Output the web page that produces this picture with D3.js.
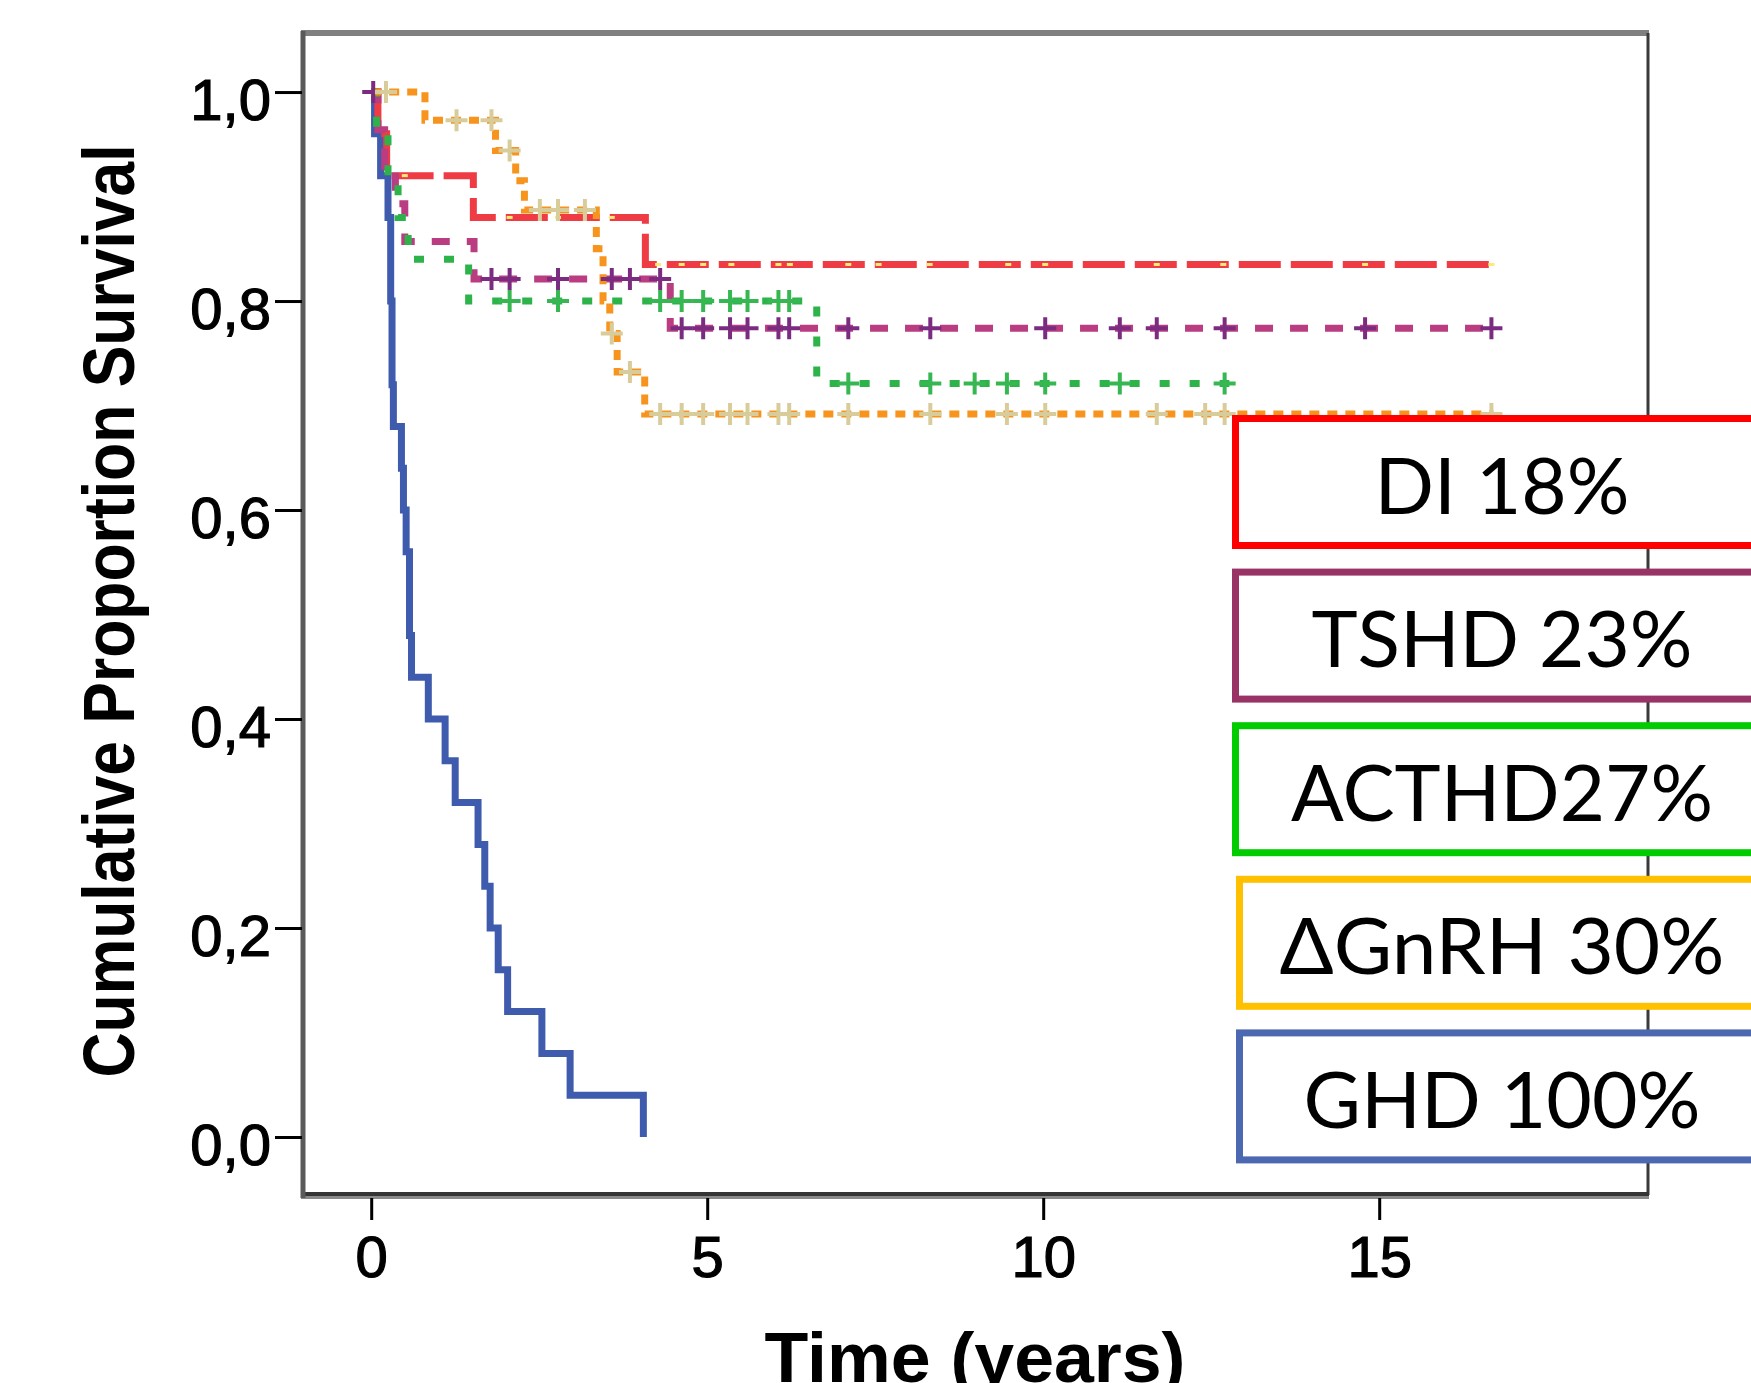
<!DOCTYPE html>
<html>
<head>
<meta charset="utf-8">
<script src="https://d3js.org/d3.v7.min.js"></script>
<style>
    body { margin: 0; background: #fff; }
    svg { display: block; }
</style>
</head>
<body>
<svg id="chart" width="1751" height="1383"></svg>
<script>
// Kaplan-Meier steps: time (years) where the curve drops, and survival after it
var ghdTimes = [0, 0.05, 0.14, 0.25, 0.29, 0.31, 0.33, 0.45, 0.48, 0.52, 0.57, 0.60, 0.85, 1.10, 1.25, 1.59, 1.69, 1.77, 1.89, 2.03, 2.54, 2.96, 4.05];
var ghdSurv  = [1.00, 0.96, 0.92, 0.88, 0.80, 0.72, 0.68, 0.64, 0.60, 0.56, 0.48, 0.44, 0.40, 0.36, 0.32, 0.28, 0.24, 0.20, 0.16, 0.12, 0.08, 0.04, 0.00];
var ghdEnd = 4.05;
var ghdCensored = [];

var diTimes = [0, 0.10, 0.23, 1.52, 4.08];
var diSurv  = [1.00, 0.96, 0.92, 0.88, 0.835];
var diEnd = 16.7;
var diCensored = [0.5, 2.06, 2.78, 3.58, 4.27, 4.62, 4.94, 5.36, 6.06, 6.23, 7.10, 7.55, 8.31, 9.48, 10.03, 11.69, 12.68, 14.79, 16.67];

var tshdTimes = [0, 0.10, 0.20, 0.36, 0.50, 1.53, 4.45];
var tshdSurv  = [1.00, 0.964, 0.929, 0.893, 0.857, 0.821, 0.774];
var tshdEnd = 16.7;
var tshdCensored = [0.03, 1.79, 2.06, 2.78, 3.58, 3.85, 4.30, 4.62, 4.94, 5.34, 5.60, 6.06, 6.22, 7.10, 8.32, 10.03, 11.14, 11.69, 12.70, 14.79, 16.67];

var acthdTimes = [0, 0.08, 0.25, 0.40, 0.55, 1.45, 6.63];
var acthdSurv  = [1.00, 0.96, 0.92, 0.88, 0.84, 0.80, 0.721];
var acthdEnd = 12.77;
var acthdCensored = [2.06, 2.78, 4.30, 4.62, 4.94, 5.34, 5.60, 6.06, 6.22, 7.10, 8.32, 8.98, 9.46, 10.03, 11.14, 12.70];

var gnrhTimes = [0, 0.80, 1.85, 2.15, 2.28, 3.35, 3.45, 3.55, 3.66, 4.07];
var gnrhSurv  = [1.00, 0.973, 0.944, 0.915, 0.887, 0.85, 0.80, 0.769, 0.732, 0.692];
var gnrhEnd = 16.7;
var gnrhCensored = [0.22, 1.27, 1.79, 2.06, 2.51, 2.78, 3.18, 3.58, 3.85, 4.30, 4.62, 4.94, 5.34, 5.60, 6.06, 6.22, 7.10, 8.32, 9.46, 10.03, 11.69, 12.41, 12.70, 16.67];

var xTicks = [0, 5, 10, 15];
var yTicks = [0, 0.2, 0.4, 0.6, 0.8, 1.0];
var legendLabels = ["DI 18%", "TSHD 23%", "ACTHD27%", "\u0394GnRH 30%", "GHD 100%"];
var legendWidths = [255, 381, 422, 445, 397];

var svg = d3.select("#chart");

var plotLeft = 304, plotRight = 1648, plotTop = 33, plotBottom = 1195;
var x = d3.scaleLinear().domain([-1, 19]).range([plotLeft, plotRight]);
var y = d3.scaleLinear().domain([-0.0555, 1.0565]).range([plotBottom, plotTop]);

// curves, back to front
var series = [
    {times: ghdTimes, surv: ghdSurv, end: ghdEnd, cens: ghdCensored, color: "#3f5bae", dash: null, mark: "plus", markColor: "#3f5bae"},
    {times: diTimes, surv: diSurv, end: diEnd, cens: diCensored, color: "#ef3b44", dash: "42,10", mark: "dot", markColor: "#f8ec78"},
    {times: tshdTimes, surv: tshdSurv, end: tshdEnd, cens: tshdCensored, color: "#b93d80", dash: "18,17", mark: "plus", markColor: "#7b2c80"},
    {times: acthdTimes, surv: acthdSurv, end: acthdEnd, cens: acthdCensored, color: "#2db34a", dash: "10,20", mark: "plus", markColor: "#36b752"},
    {times: gnrhTimes, surv: gnrhSurv, end: gnrhEnd, cens: gnrhCensored, color: "#f7941d", dash: "10,8", mark: "plus", markColor: "#d8cd9a"}
];

var line = d3.line()
    .x(function(d) { return x(d[0]); })
    .y(function(d) { return y(d[1]); })
    .curve(d3.curveStepAfter);

function survAt(s, t) {
    var i = d3.bisectRight(s.times, t) - 1;
    return s.surv[Math.max(i, 0)];
}

series.forEach(function(s) {
    var pts = s.times.map(function(t, i) { return [t, s.surv[i]]; });
    pts.push([s.end, s.surv[s.surv.length - 1]]);
    svg.append("path")
        .attr("d", line(pts))
        .attr("fill", "none")
        .attr("stroke", s.color)
        .attr("stroke-width", 7)
        .attr("stroke-dasharray", s.dash)
        .attr("stroke-linejoin", "miter");
});

series.forEach(function(s) {
    svg.selectAll(null)
        .data(s.cens)
        .enter()
        .append("path")
        .attr("transform", function(t) { return "translate(" + x(t) + "," + y(survAt(s, t)) + ")"; })
        .attr("d", s.mark == "dot" ? "M-3,0H3" : "M-11,0H11M0,-11V11")
        .attr("stroke", s.markColor)
        .attr("stroke-width", s.mark == "dot" ? 3 : 4)
        .attr("fill", "none");
});

// frame
svg.append("line").attr("x1", plotLeft - 3).attr("x2", plotRight + 1)
    .attr("y1", plotTop).attr("y2", plotTop)
    .attr("stroke", "#808080").attr("stroke-width", 6);
svg.append("line").attr("x1", plotRight).attr("x2", plotRight)
    .attr("y1", plotTop).attr("y2", plotBottom)
    .attr("stroke", "#3a3a3a").attr("stroke-width", 3);
svg.append("line").attr("x1", plotLeft - 3).attr("x2", plotRight + 1)
    .attr("y1", plotBottom + 2).attr("y2", plotBottom + 2)
    .attr("stroke", "#8a8a8a").attr("stroke-width", 4);
svg.append("line").attr("x1", plotLeft - 3).attr("x2", plotRight + 1)
    .attr("y1", plotBottom - 1).attr("y2", plotBottom - 1)
    .attr("stroke", "#353535").attr("stroke-width", 4);
svg.append("line").attr("x1", plotLeft - 1).attr("x2", plotLeft - 1)
    .attr("y1", plotTop - 2).attr("y2", plotBottom + 3)
    .attr("stroke", "#5a5a5a").attr("stroke-width", 5);

// axes
var yAxis = svg.append("g")
    .attr("transform", "translate(" + (plotLeft - 2) + ",0)")
    .call(d3.axisLeft(y).tickValues(yTicks).tickSize(27).tickPadding(4)
        .tickFormat(function(d) { return d3.format(".1f")(d).replace(".", ","); }));
var xAxis = svg.append("g")
    .attr("transform", "translate(0," + (plotBottom + 3) + ")")
    .call(d3.axisBottom(x).tickValues(xTicks).tickSize(22).tickPadding(16).tickFormat(d3.format("d")));

[yAxis, xAxis].forEach(function(g) {
    g.select(".domain").remove();
    g.selectAll(".tick line").attr("stroke", "#000").attr("stroke-width", 3);
    g.selectAll(".tick text")
        .attr("fill", "#000")
        .attr("stroke", "#000")
        .attr("stroke-width", 1.2)
        .style("font-family", "'Liberation Sans', Arial, sans-serif")
        .style("font-size", "58px");
});
yAxis.selectAll(".tick text").attr("dy", "0.48em");

// axis titles
svg.append("text")
    .attr("transform", "translate(134,611) rotate(-90)")
    .attr("text-anchor", "middle")
    .attr("textLength", 933)
    .attr("lengthAdjust", "spacingAndGlyphs")
    .style("font-family", "'Liberation Sans', Arial, sans-serif")
    .style("font-weight", "bold")
    .style("font-size", "72px")
    .text("Cumulative Proportion Survival");

svg.append("text")
    .attr("x", 975)
    .attr("y", 1382)
    .attr("text-anchor", "middle")
    .attr("textLength", 421)
    .attr("lengthAdjust", "spacingAndGlyphs")
    .style("font-family", "'Liberation Sans', Arial, sans-serif")
    .style("font-weight", "bold")
    .style("font-size", "71px")
    .text("Time (years)");

// legend boxes
var legendColors = ["#ff0000", "#993366", "#00cc00", "#ffc000", "#4c68b0"];
var legendLeft = [1235.5, 1235.5, 1235.5, 1239.5, 1239.5];
var boxTop = 418.5, boxStep = 153.6, boxHeight = 127;

legendLabels.forEach(function(lab, i) {
    var g = svg.append("g");
    g.append("rect")
        .attr("x", legendLeft[i])
        .attr("y", boxTop + i * boxStep)
        .attr("width", 600)
        .attr("height", boxHeight)
        .attr("fill", "#fff")
        .attr("stroke", legendColors[i])
        .attr("stroke-width", 7);
    g.append("text")
        .attr("x", 1502)
        .attr("y", boxTop + i * boxStep + 95)
        .attr("text-anchor", "middle")
        .attr("textLength", legendWidths[i])
        .attr("lengthAdjust", "spacingAndGlyphs")
        .style("font-family", "Lato, 'Open Sans', sans-serif")
        .style("font-size", "78px")
        .attr("fill", "#000")
        .text(lab);
});
</script>
</body>
</html>
